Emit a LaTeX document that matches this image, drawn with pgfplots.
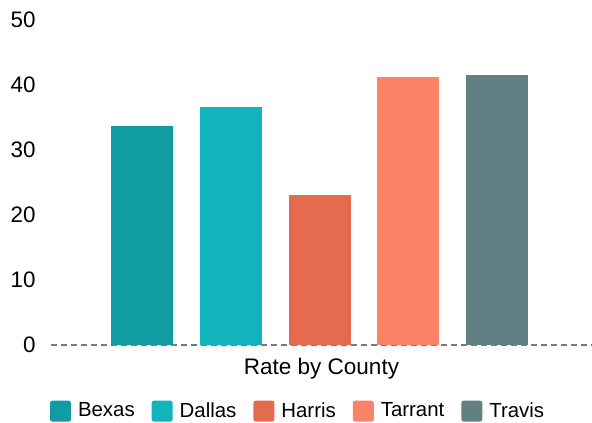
\documentclass[border=0pt]{standalone}
\usepackage{fontspec}
\setmainfont{Liberation Sans}
\usepackage{pgfplots}
\pgfplotsset{compat=1.18}
\definecolor{cBexas}{HTML}{109CA0}
\definecolor{cDallas}{HTML}{11B3BC}
\definecolor{cHarris}{HTML}{E56B4E}
\definecolor{cTarrant}{HTML}{FA8266}
\definecolor{cTravis}{HTML}{627F83}
\definecolor{basegray}{HTML}{7A7A7A}

\begin{document}
\begin{tikzpicture}
\begin{axis}[
    scale only axis,
    width=270.5pt, height=162.5pt,
    ybar, bar width=0.7,
    xmin=-1.03, xmax=5.07,
    ymin=0, ymax=50,
    ytick={0,10,...,50},
    xtick=\empty,
    major tick length=0pt,
    axis line style={draw=none},
    /pgf/number format/assume math mode=true,
    yticklabel style={font=\fontsize{11.2}{13}\selectfont, inner sep=0pt, anchor=east, xshift=-7.5pt},
    extra y ticks={0},
    extra y tick labels={},
    extra y tick style={grid=major, major grid style={basegray, line width=1pt, dash pattern=on 3pt off 2pt}},
    xlabel={Rate by County},
    xlabel style={at={(axis description cs:0.5,0)}, anchor=base, yshift=-14.75pt, font=\fontsize{11.25}{13}\selectfont},
    legend columns=-1,
    legend style={at={(axis description cs:0.4585,-0.205)}, anchor=center, draw=none,
        font=\fontsize{10.2}{12}\selectfont,
        /tikz/every even column/.append style={column sep=6.5pt}},
    legend image code/.code={\fill[#1, draw=none, rounded corners=1.2pt] (0pt,-5.25pt) rectangle (10.5pt,5.25pt);
        \path (0pt,0pt) -- (12pt,0pt);},
]
\addplot[fill=cBexas, draw=none, bar shift=0pt] coordinates {(0,33.6)};
\addplot[fill=cDallas, draw=none, bar shift=0pt] coordinates {(1,36.5)};
\addplot[fill=cHarris, draw=none, bar shift=0pt] coordinates {(2,22.95)};
\addplot[fill=cTarrant, draw=none, bar shift=0pt] coordinates {(3,41.15)};
\addplot[fill=cTravis, draw=none, bar shift=0pt] coordinates {(4,41.45)};
\legend{Bexas, Dallas, Harris, Tarrant, Travis}
\end{axis}
\pgfresetboundingbox
\path[use as bounding box, shift={(current axis.south west)}] (-25.5pt,-38.75pt) rectangle (270.5pt,172.25pt);
\end{tikzpicture}
\end{document}
